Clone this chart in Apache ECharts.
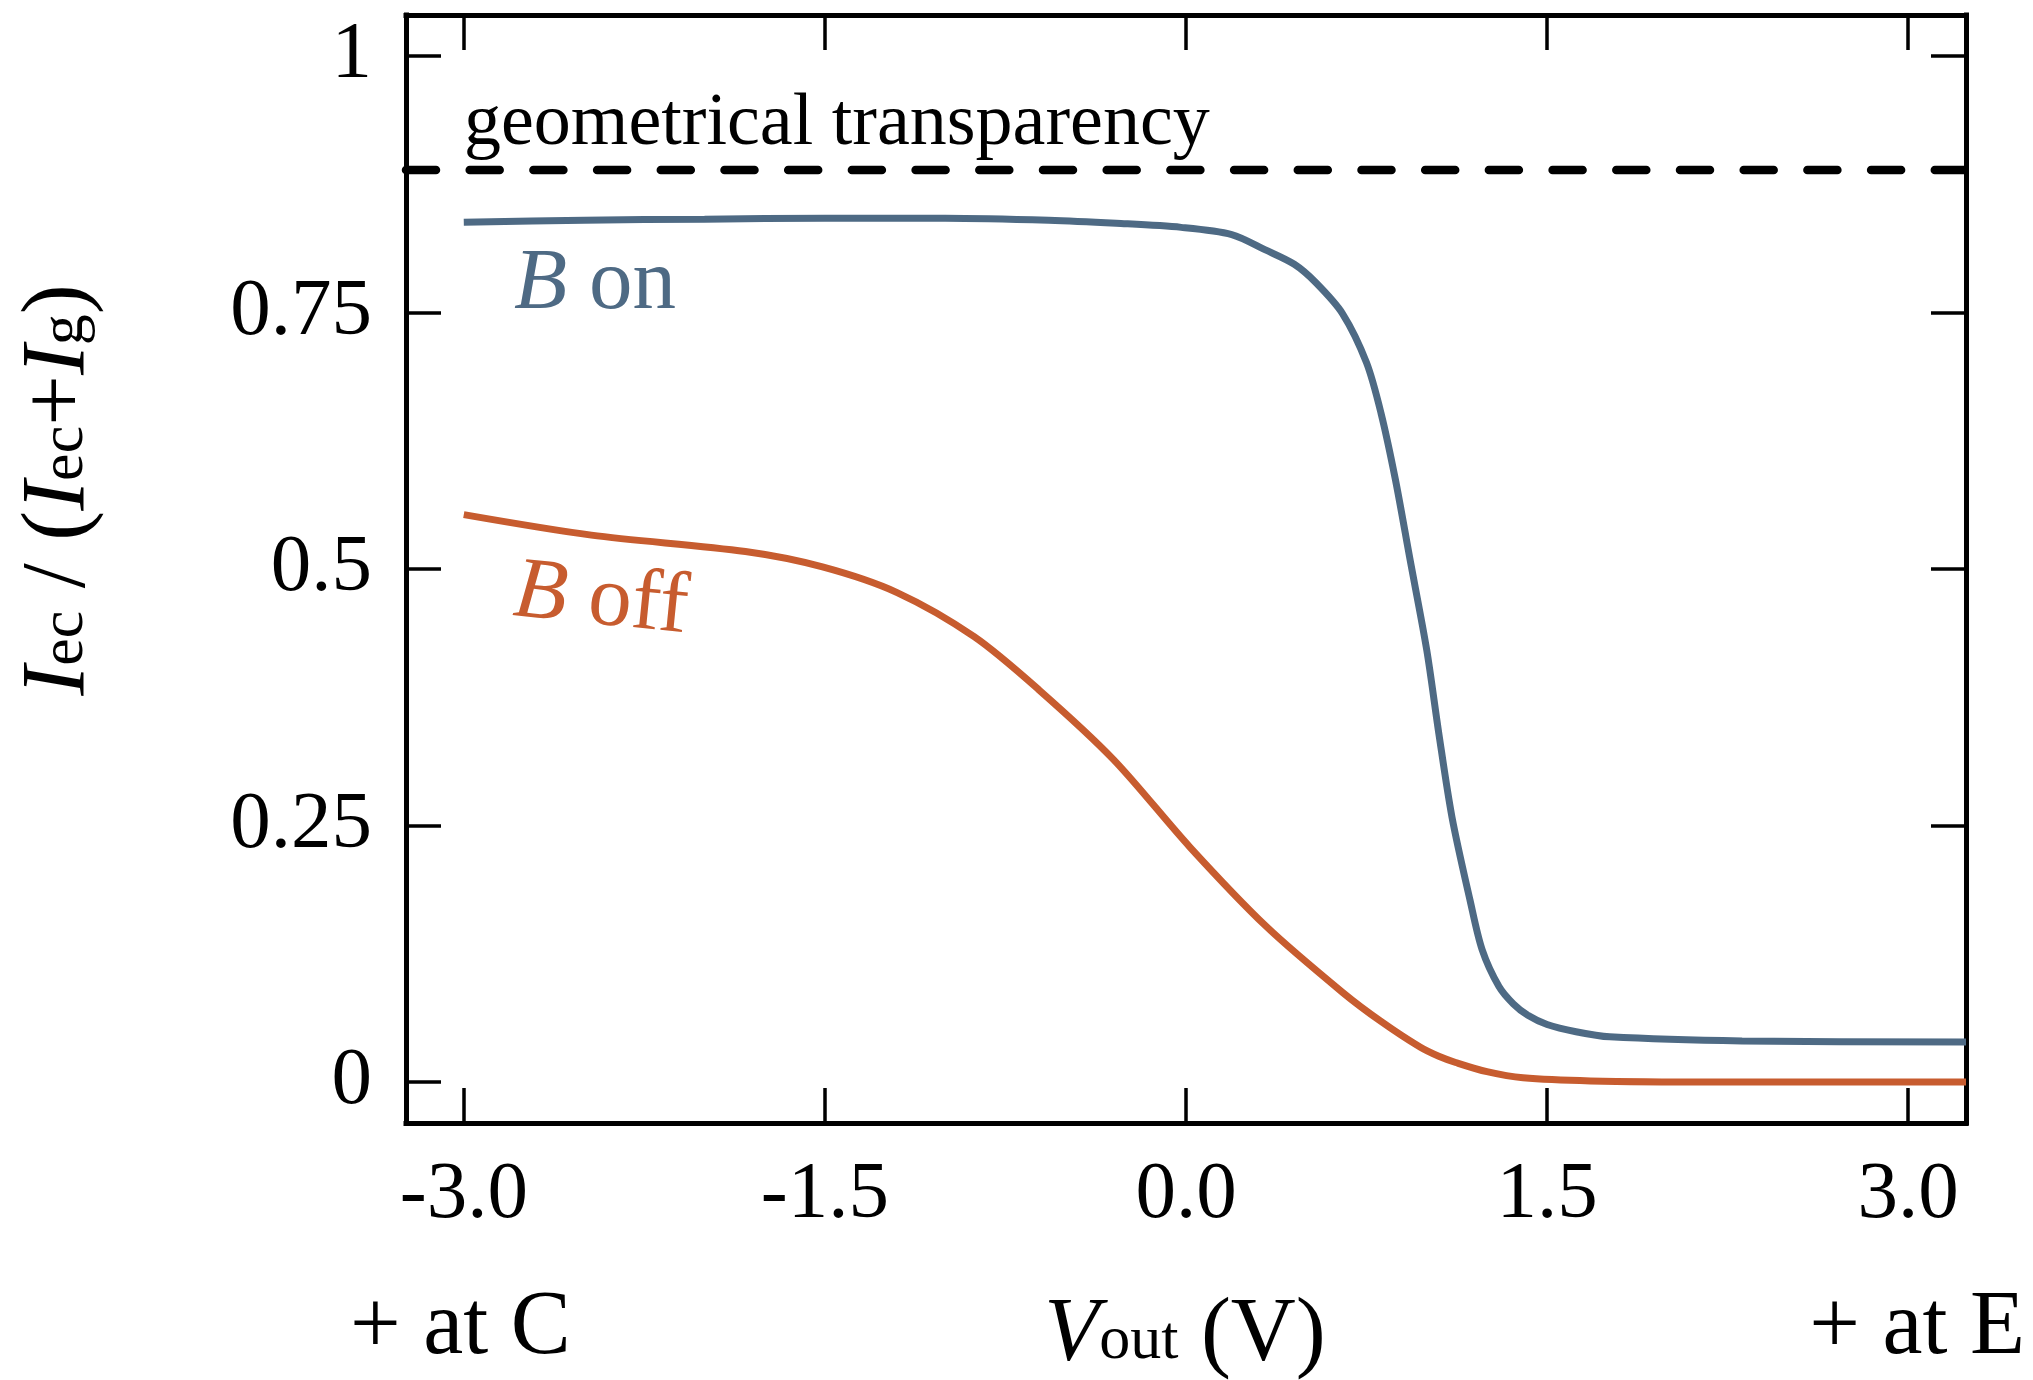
<!DOCTYPE html>
<html>
<head>
<meta charset="utf-8">
<script src="https://cdn.jsdelivr.net/npm/echarts@6/dist/echarts.min.js"></script>
<style>html,body{margin:0;padding:0;background:#fff}#c{width:2033px;height:1380px}</style>
</head>
<body>
<div id="c"></div>
<script>
// ---- data ----
const xTicks = [-3.0, -1.5, 0.0, 1.5, 3.0];
const yTicks = [0, 0.25, 0.5, 0.75, 1];
const xRange = [-3.24, 3.24];
const yRange = [-0.04, 1.04];

// "B on" curve
const vOn = [-3.0, -2.5, -2.0, -1.5, -1.0, -0.57, -0.29, -0.02, 0.19, 0.33, 0.45, 0.54, 0.65, 0.75, 0.81, 0.87, 0.93, 1.00, 1.05, 1.105, 1.18, 1.23, 1.30, 1.36, 1.42, 1.50, 1.62, 1.76, 2.31, 3.24];
const iOn = [0.838, 0.840, 0.841, 0.842, 0.842, 0.840, 0.837, 0.833, 0.826, 0.811, 0.797, 0.779, 0.749, 0.701, 0.652, 0.587, 0.510, 0.421, 0.340, 0.258, 0.177, 0.129, 0.093, 0.076, 0.065, 0.056, 0.049, 0.044, 0.040, 0.039];

// "B off" curve
const vOff = [-3.0, -2.47, -1.83, -1.51, -1.20, -0.88, -0.61, -0.30, 0.016, 0.336, 0.652, 0.81, 0.972, 1.05, 1.12, 1.25, 1.40, 1.68, 2.2, 3.24];
const iOff = [0.553, 0.533, 0.517, 0.502, 0.477, 0.434, 0.382, 0.314, 0.229, 0.151, 0.087, 0.059, 0.034, 0.025, 0.019, 0.010, 0.004, 0.001, 0.0, 0.0];

// geometrical transparency level
const transparency = 0.889;

const FONT = 'Liberation Serif';
const BLUE = '#4e6a84';
const ORANGE = '#c75c2f';

const onData = vOn.map((v, i) => [v, iOn[i]]);
const offData = vOff.map((v, i) => [v, iOff[i]]);
const gtData = [[xRange[0], transparency], [xRange[1], transparency]];

function frameAxis(extra) {
  return Object.assign({
    type: 'value',
    axisLine: { show: true, onZero: false, lineStyle: { color: '#000', width: 5, cap: 'square' } },
    splitLine: { show: false },
    axisPointer: { show: false }
  }, extra);
}

const chart = echarts.init(document.getElementById('c'), null, { renderer: 'canvas' });

const subRich = (size, extra) => Object.assign({ fontFamily: FONT, fontSize: size, lineHeight: 100, verticalAlign: 'top', fill: '#000' }, extra || {});

chart.setOption({
  animation: false,
  backgroundColor: '#fff',
  grid: { left: 406, right: 67, top: 15, bottom: 257, containLabel: false, outerBoundsMode: 'none' },
  xAxis: [
    frameAxis({
      position: 'bottom', min: xRange[0], max: xRange[1],
      axisTick: { show: true, inside: true, length: 35, customValues: xTicks, lineStyle: { color: '#000', width: 3.5 } },
      axisLabel: { show: true, customValues: xTicks, formatter: v => v.toFixed(1), margin: 32, fontSize: 81, fontFamily: FONT, color: '#000' }
    }),
    frameAxis({
      position: 'top', min: xRange[0], max: xRange[1],
      axisTick: { show: true, inside: true, length: 35, customValues: xTicks, lineStyle: { color: '#000', width: 3.5 } },
      axisLabel: { show: false }
    })
  ],
  yAxis: [
    frameAxis({
      position: 'left', min: yRange[0], max: yRange[1],
      axisTick: { show: true, inside: true, length: 35, customValues: yTicks, lineStyle: { color: '#000', width: 3.5 } },
      axisLabel: { show: true, customValues: yTicks, formatter: v => String(v), margin: 34, fontSize: 81, fontFamily: FONT, color: '#000' }
    }),
    frameAxis({
      position: 'right', min: yRange[0], max: yRange[1],
      axisTick: { show: true, inside: true, length: 35, customValues: yTicks, lineStyle: { color: '#000', width: 3.5 } },
      axisLabel: { show: false }
    })
  ],
  series: [
    {
      name: 'geometrical transparency', type: 'line', data: gtData, showSymbol: false, symbol: 'none',
      lineStyle: { color: '#000', width: 8.5, type: [30, 33.7], cap: 'round' }, z: 3
    },
    {
      name: 'B on', type: 'line', data: onData, showSymbol: false, symbol: 'none', smooth: 0.3,
      lineStyle: { color: BLUE, width: 7 }, z: 2
    },
    {
      name: 'B off', type: 'line', data: offData, showSymbol: false, symbol: 'none', smooth: 0.3,
      lineStyle: { color: ORANGE, width: 7 }, z: 2
    }
  ],
  graphic: [
    { type: 'text', x: 464, y: 125, style: { text: 'geometrical transparency', fontFamily: FONT, fontSize: 74, fill: '#000', align: 'left', verticalAlign: 'middle' } },
    { type: 'text', x: 595, y: 285, style: {
        text: '{i|B}{n| on}', align: 'center', verticalAlign: 'middle', fontFamily: FONT, fontSize: 87, fill: BLUE,
        rich: { i: { fontFamily: FONT, fontSize: 87, fontStyle: 'italic', fill: BLUE }, n: { fontFamily: FONT, fontSize: 87, fill: BLUE } } } },
    { type: 'text', x: 601, y: 601, rotation: -0.1, style: {
        text: '{i|B}{n| off}', align: 'center', verticalAlign: 'middle', fontFamily: FONT, fontSize: 87, fill: ORANGE,
        rich: { i: { fontFamily: FONT, fontSize: 87, fontStyle: 'italic', fill: ORANGE }, n: { fontFamily: FONT, fontSize: 87, fill: ORANGE } } } },
    { type: 'text', x: 1185, y: 1341, style: {
        text: '{i|V}{s|out}{n| (V)}', align: 'center', verticalAlign: 'middle', fontFamily: FONT, fontSize: 90, fill: '#000',
        rich: { i: subRich(90, { fontStyle: 'italic' }), n: subRich(90), s: subRich(62, { padding: [20, 0, 0, 0] }) } } },
    { type: 'text', x: 350, y: 1329, style: { text: '+ at C', fontFamily: FONT, fontSize: 90, fill: '#000', align: 'left', verticalAlign: 'middle' } },
    { type: 'text', x: 2025, y: 1329, style: { text: '+ at E', fontFamily: FONT, fontSize: 90, fill: '#000', align: 'right', verticalAlign: 'middle' } },
    { type: 'text', x: 65, y: 490, rotation: Math.PI / 2, style: {
        text: '{i|I}{s|ec}{n| / (}{i|I}{s|ec}{n|+}{i|I}{s|g}{n|)}', align: 'center', verticalAlign: 'middle', fontFamily: FONT, fontSize: 90, fill: '#000',
        rich: { i: subRich(90, { fontStyle: 'italic' }), n: subRich(90), s: subRich(62, { padding: [20, 0, 0, 0] }) } } }
  ]
});
</script>
</body>
</html>
